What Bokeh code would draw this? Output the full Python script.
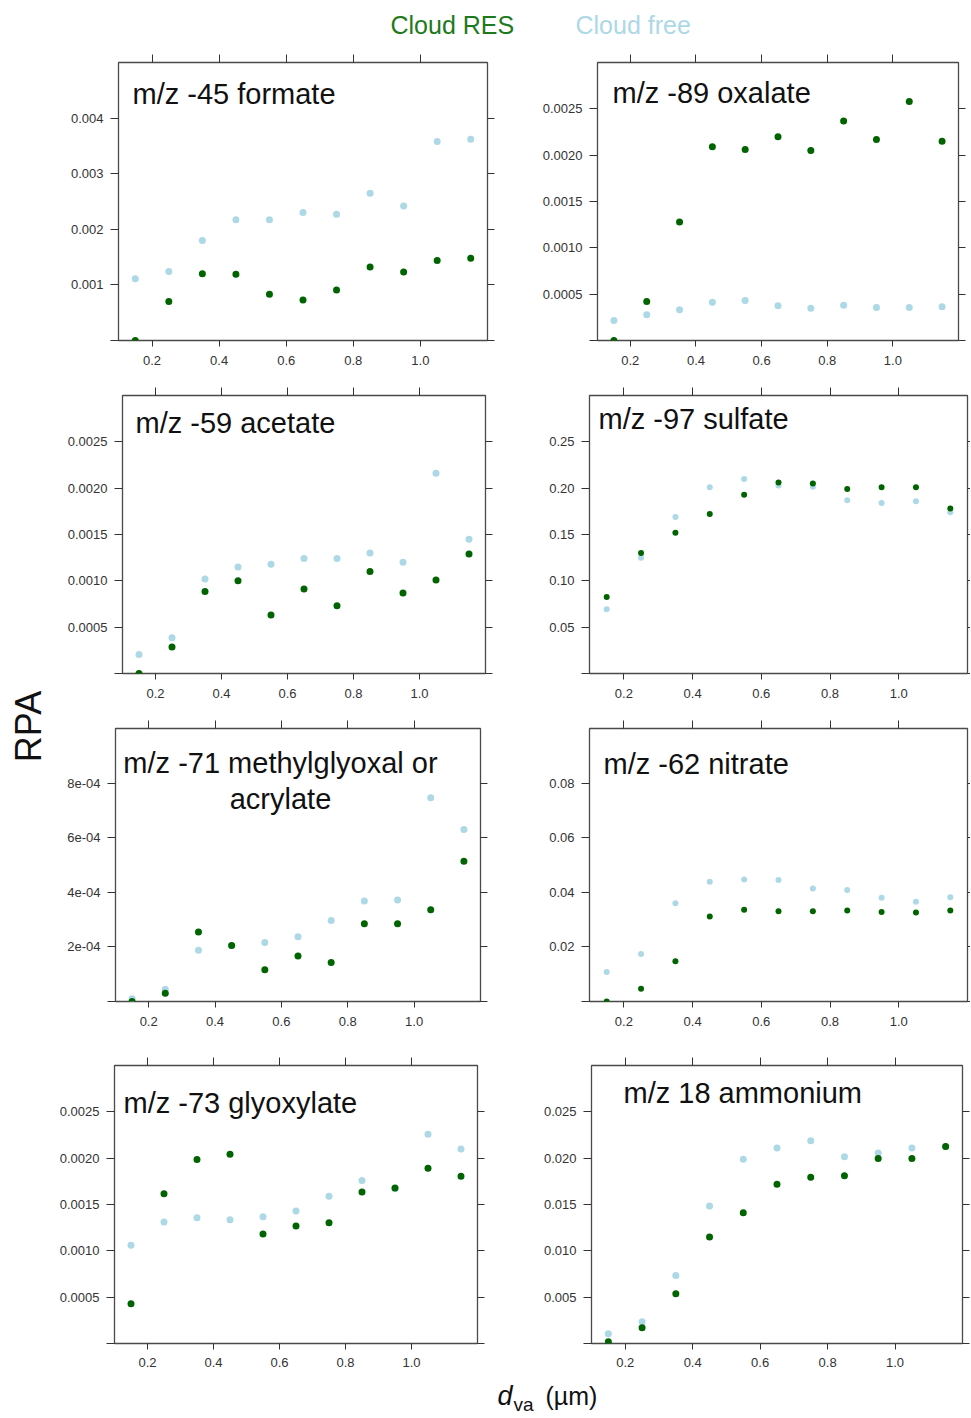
import math
from bokeh.plotting import figure
from bokeh.layouts import column, row
from bokeh.models import Range1d, LinearAxis, FixedTicker
from bokeh.embed import file_html
from bokeh.resources import INLINE
from bokeh.core.properties import value

FONT = "Liberation Sans"
GREEN = "#006400"
LIGHTBLUE = "#add8e6"
TICKCOL = "#333333"

# ---------------- data ----------------
diameter = [0.15, 0.25, 0.35, 0.45, 0.55, 0.65, 0.75, 0.85, 0.95, 1.05, 1.15]

x_ticks = [0.2, 0.4, 0.6, 0.8, 1.0]
x_tick_labels = ["0.2", "0.4", "0.6", "0.8", "1.0"]

formate_res = [0.0, 0.70e-3, 1.20e-3, 1.19e-3, 0.83e-3, 0.73e-3, 0.91e-3, 1.32e-3, 1.23e-3, 1.44e-3, 1.48e-3]
formate_free = [1.11e-3, 1.24e-3, 1.80e-3, 2.17e-3, 2.17e-3, 2.30e-3, 2.27e-3, 2.65e-3, 2.42e-3, 3.58e-3, 3.62e-3]
formate_yticks = [0.001, 0.002, 0.003, 0.004]
formate_ylabels = ["0.001", "0.002", "0.003", "0.004"]

oxalate_res = [0.0, 0.42e-3, 1.28e-3, 2.09e-3, 2.06e-3, 2.20e-3, 2.05e-3, 2.37e-3, 2.17e-3, 2.58e-3, 2.15e-3]
oxalate_free = [0.216e-3, 0.277e-3, 0.331e-3, 0.414e-3, 0.432e-3, 0.374e-3, 0.349e-3, 0.381e-3, 0.356e-3, 0.356e-3, 0.363e-3]
oxalate_yticks = [0.0005, 0.0010, 0.0015, 0.0020, 0.0025]
oxalate_ylabels = ["0.0005", "0.0010", "0.0015", "0.0020", "0.0025"]

acetate_res = [0.0, 0.286e-3, 0.886e-3, 1.00e-3, 0.632e-3, 0.911e-3, 0.732e-3, 1.10e-3, 0.868e-3, 1.01e-3, 1.29e-3]
acetate_free = [0.204e-3, 0.386e-3, 1.02e-3, 1.15e-3, 1.18e-3, 1.24e-3, 1.24e-3, 1.30e-3, 1.20e-3, 2.16e-3, 1.45e-3]
acetate_yticks = [0.0005, 0.0010, 0.0015, 0.0020, 0.0025]
acetate_ylabels = ["0.0005", "0.0010", "0.0015", "0.0020", "0.0025"]

sulfate_res = [0.0825, 0.130, 0.152, 0.172, 0.193, 0.206, 0.205, 0.199, 0.201, 0.201, 0.178]
sulfate_free = [0.0693, 0.125, 0.169, 0.201, 0.210, 0.203, 0.2016, 0.187, 0.184, 0.186, 0.174]
sulfate_yticks = [0.05, 0.10, 0.15, 0.20, 0.25]
sulfate_ylabels = ["0.05", "0.10", "0.15", "0.20", "0.25"]

mgly_res = [0.0, 0.30e-4, 2.55e-4, 2.05e-4, 1.16e-4, 1.67e-4, 1.43e-4, 2.85e-4, 2.85e-4, 3.36e-4, 5.14e-4]
mgly_free = [0.1e-4, 0.45e-4, 1.88e-4, 2.05e-4, 2.16e-4, 2.37e-4, 2.97e-4, 3.68e-4, 3.72e-4, 7.46e-4, 6.30e-4]
mgly_yticks = [2e-4, 4e-4, 6e-4, 8e-4]
mgly_ylabels = ["2e-04", "4e-04", "6e-04", "8e-04"]

nitrate_res = [0.0, 0.0047, 0.0147, 0.0311, 0.0336, 0.0331, 0.0331, 0.0333, 0.0328, 0.0326, 0.0333]
nitrate_free = [0.0108, 0.0174, 0.0360, 0.0439, 0.0447, 0.0445, 0.0414, 0.0408, 0.0380, 0.0365, 0.0382]
nitrate_yticks = [0.02, 0.04, 0.06, 0.08]
nitrate_ylabels = ["0.02", "0.04", "0.06", "0.08"]

glyox_res = [0.428e-3, 1.617e-3, 1.985e-3, 2.043e-3, 1.181e-3, 1.268e-3, 1.304e-3, 1.635e-3, 1.678e-3, 1.891e-3, 1.805e-3]
glyox_free = [1.059e-3, 1.311e-3, 1.358e-3, 1.336e-3, 1.368e-3, 1.430e-3, 1.588e-3, 1.758e-3, 1.670e-3, 2.259e-3, 2.100e-3]
glyox_yticks = [0.0005, 0.0010, 0.0015, 0.0020, 0.0025]
glyox_ylabels = ["0.0005", "0.0010", "0.0015", "0.0020", "0.0025"]

ammon_res = [0.19e-3, 1.70e-3, 5.36e-3, 11.50e-3, 14.12e-3, 17.18e-3, 17.93e-3, 18.11e-3, 19.97e-3, 19.97e-3, 21.27e-3]
ammon_free = [1.05e-3, 2.34e-3, 7.33e-3, 14.84e-3, 19.87e-3, 21.09e-3, 21.88e-3, 20.16e-3, 20.55e-3, 21.09e-3, 21.27e-3]
ammon_yticks = [0.005, 0.010, 0.015, 0.020, 0.025]
ammon_ylabels = ["0.005", "0.010", "0.015", "0.020", "0.025"]

series_names = ["Cloud RES", "Cloud free"]
y_axis_title = "RPA"

panels = [
    dict(title=["m/z -45 formate"], res=formate_res, free=formate_free, ymax=0.005,
         yticks=formate_yticks, ylabels=formate_ylabels),
    dict(title=["m/z -89 oxalate"], res=oxalate_res, free=oxalate_free, ymax=0.003,
         yticks=oxalate_yticks, ylabels=oxalate_ylabels),
    dict(title=["m/z -59 acetate"], res=acetate_res, free=acetate_free, ymax=0.003,
         yticks=acetate_yticks, ylabels=acetate_ylabels),
    dict(title=["m/z -97 sulfate"], res=sulfate_res, free=sulfate_free, ymax=0.3,
         yticks=sulfate_yticks, ylabels=sulfate_ylabels),
    dict(title=["m/z -71 methylglyoxal or", "acrylate"], res=mgly_res, free=mgly_free, ymax=0.001,
         yticks=mgly_yticks, ylabels=mgly_ylabels),
    dict(title=["m/z -62 nitrate"], res=nitrate_res, free=nitrate_free, ymax=0.1,
         yticks=nitrate_yticks, ylabels=nitrate_ylabels),
    dict(title=["m/z -73 glyoxylate"], res=glyox_res, free=glyox_free, ymax=0.003,
         yticks=glyox_yticks, ylabels=glyox_ylabels),
    dict(title=["m/z 18 ammonium"], res=ammon_res, free=ammon_free, ymax=0.03,
         yticks=ammon_yticks, ylabels=ammon_ylabels),
]

# ---------------- layout (pixels) ----------------
# left column figures are 477 px wide, right column figures 440 px wide
geometry = [
    dict(fw=369, fh=278, bl=65, br=43, bt=19, bb=38, rt=7, ms=7, tx=14, ty=[31], talign="left", so=9),
    dict(fw=361, fh=279, bl=67, br=12, bt=19, bb=37, rt=7, ms=7, tx=15, ty=[30], talign="left", so=9),
    dict(fw=363, fh=280, bl=69, br=45, bt=17, bb=37, rt=7, ms=7, tx=13, ty=[27], talign="left", so=9),
    dict(fw=378, fh=278, bl=59, br=3, bt=17, bb=39, rt=3, ms=6, tx=9, ty=[23], talign="left", so=9),
    dict(fw=365, fh=279, bl=62, br=50, bt=16, bb=40, rt=7, ms=7, tx=165, ty=[34, 70], talign="center", so=9),
    dict(fw=378, fh=279, bl=59, br=3, bt=10, bb=46, rt=3, ms=6, tx=14, ty=[35], talign="left", so=9),
    dict(fw=363, fh=278, bl=61, br=53, bt=18, bb=30, rt=7, ms=7, tx=9, ty=[37], talign="left", so=8),
    dict(fw=371, fh=278, bl=61, br=8, bt=18, bb=30, rt=7, ms=7, tx=32, ty=[27], talign="left", so=8),
]

XMIN, XMAX = 0.1, 1.2


def style_axis(ax, tick_out, labels=True, standoff=7):
    ax.axis_line_color = None
    ax.major_tick_in = 0
    ax.major_tick_out = tick_out
    ax.minor_tick_line_color = None
    ax.major_tick_line_color = TICKCOL
    ax.major_tick_line_width = 1
    if labels:
        ax.major_label_text_font = FONT
        ax.major_label_text_font_size = "13px"
        ax.major_label_text_color = TICKCOL
        ax.major_label_standoff = standoff
    else:
        ax.major_label_text_color = None
        ax.major_label_standoff = 0


def make_panel(spec, geo):
    p = figure(width=geo["bl"] + geo["fw"] + geo["br"], height=geo["bt"] + geo["fh"] + geo["bb"],
               x_range=Range1d(XMIN, XMAX), y_range=Range1d(0, spec["ymax"]),
               x_axis_type=None, y_axis_type=None,
               output_backend="svg", toolbar_location=None,
               min_border_left=geo["bl"], min_border_right=geo["br"],
               min_border_top=geo["bt"], min_border_bottom=geo["bb"])
    p.background_fill_color = "white"
    p.border_fill_color = "white"
    p.outline_line_color = "#4a4a4a"
    p.outline_line_width = 1.3

    yt = [0.0] + list(spec["yticks"])
    yover = {0.0: ""}
    yover.update(dict(zip(spec["yticks"], spec["ylabels"])))
    xover = dict(zip(x_ticks, x_tick_labels))

    left = LinearAxis(ticker=FixedTicker(ticks=yt), major_label_overrides=yover)
    style_axis(left, 8, True, 7)
    p.add_layout(left, "left")

    below = LinearAxis(ticker=FixedTicker(ticks=x_ticks), major_label_overrides=xover)
    style_axis(below, 6, True, geo["so"])
    p.add_layout(below, "below")

    above = LinearAxis(ticker=FixedTicker(ticks=x_ticks))
    style_axis(above, 8, False)
    p.add_layout(above, "above")

    if geo["rt"] > 0:
        right = LinearAxis(ticker=FixedTicker(ticks=yt))
        style_axis(right, geo["rt"], False)
        p.add_layout(right, "right")

    p.scatter(diameter, spec["free"], size=geo["ms"], marker="circle",
              fill_color=LIGHTBLUE, line_color=None)
    p.scatter(diameter, spec["res"], size=geo["ms"], marker="circle",
              fill_color=GREEN, line_color=None)

    for line, dy in zip(spec["title"], geo["ty"]):
        p.text(x=[XMIN], y=[spec["ymax"]], text=[line], x_offset=geo["tx"], y_offset=dy,
               text_font=value(FONT), text_font_size="29px", text_color="#111111",
               text_align=geo["talign"], text_baseline="middle")
    return p


figs = [make_panel(s, g) for s, g in zip(panels, geometry)]

# ---------------- global labels ----------------
TOTAL_W = 970
LEG_H = 43
ROWS_H = 335 + 334 + 335 + 326
XL_H = 44
RPA_W = 53


def blank_fig(w, h):
    f = figure(width=w, height=h, x_range=Range1d(0, w), y_range=Range1d(0, h),
               x_axis_type=None, y_axis_type=None, output_backend="svg",
               toolbar_location=None, min_border=0)
    f.outline_line_color = None
    f.background_fill_color = "white"
    f.border_fill_color = "white"
    return f


leg = blank_fig(TOTAL_W, LEG_H)
leg.text(x=[390], y=[19], text=[series_names[0]], text_font=value(FONT), text_font_size="25px",
         text_color="#1d7a1d", text_align="left", text_baseline="middle")
leg.text(x=[575], y=[19], text=[series_names[1]], text_font=value(FONT), text_font_size="25px",
         text_color=LIGHTBLUE, text_align="left", text_baseline="middle")

rpa = blank_fig(RPA_W, ROWS_H)
rpa.text(x=[28], y=[647], text=[y_axis_title], angle=math.pi / 2, text_font=value(FONT),
         text_font_size="36px", text_color="#111111", text_align="center", text_baseline="middle")

xl = blank_fig(TOTAL_W, XL_H)
xl.text(x=[497], y=[22], text=["d"], text_font=value(FONT), text_font_size="27px",
        text_font_style="italic", text_color="#111111", text_align="left", text_baseline="middle")
xl.text(x=[513], y=[13], text=["va"], text_font=value(FONT), text_font_size="19px",
        text_color="#111111", text_align="left", text_baseline="middle")
xl.text(x=[545], y=[22], text=["(µm)"], text_font=value(FONT), text_font_size="25px",
        text_color="#111111", text_align="left", text_baseline="middle")

grid = column(row(figs[0], figs[1]), row(figs[2], figs[3]),
              row(figs[4], figs[5]), row(figs[6], figs[7]))
root = column(leg, row(rpa, grid), xl)

open("out.html", "w").write(file_html(root, INLINE))
